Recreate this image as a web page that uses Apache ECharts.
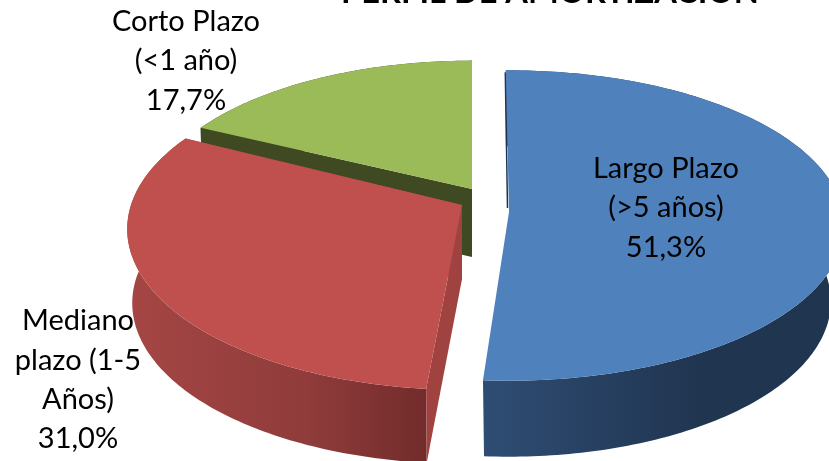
<!DOCTYPE html>
<html><head><meta charset="utf-8">
<style>html,body{margin:0;padding:0;background:#fff}#c{width:829px;height:461px}</style>
<script src="https://cdn.jsdelivr.net/npm/echarts@6/dist/echarts.min.js"></script>
</head><body><div id="c"></div>
<script>
const titleText = 'PERFIL DE AMORTIZACIÓN';
const categories = ['Largo Plazo\n(>5 años)', 'Mediano\nplazo (1-5\nAños)', 'Corto Plazo\n(<1 año)'];
const percentValues = [51.3, 31.0, 17.7];
const percentLabels = ['51,3%', '31,0%', '17,7%'];

const FONT = 'Lato, Carlito, "Open Sans", sans-serif';
// Per-slice look of the tilted, exploded disc
const looks = [
  {ax:509, ay:212, rx:334, ry:154, p:.087, drop:76, lower:.96, top:'#4f81bd', shift:-.6, layer:2, faces:false,
   wall:['#2f4d74','#203550','#203550'], face:'#1d3350', lx:666, ly:208},
  {ax:462, ay:205, rx:331, ry:157, p:.15, drop:74, lower:.985, top:'#c0504d', shift:.6, layer:1, faces:true,
   wall:['#a54644','#8f3c3b','#722c2b'], face:'#a04240', lx:78, ly:380},
  {ax:472, ay:189, rx:322, ry:147, p:.145, drop:68, lower:.995, top:'#9bbb59', shift:0, layer:0, faces:true,
   wall:['#3f4a23','#3f4a23','#3f4a23'], face:'#3f4a23', lx:186, ly:61}
];
const total = percentValues.reduce((a, b) => a + b, 0);

function pt(L, deg, lower) {
  const t = deg * Math.PI / 180, u = Math.sin(t), v = Math.cos(t), s = 1 / (1 + L.p * v);
  return lower
    ? [L.ax + L.rx * L.lower * u * s, L.ay + L.drop - L.ry * v * s]
    : [L.ax + L.rx * u * s, L.ay - L.ry * v * s];
}
function arc(L, a0, a1, lower) {
  const out = [], n = Math.ceil(Math.abs(a1 - a0));
  for (let i = 0; i <= n; i++) out.push(pt(L, a0 + (a1 - a0) * i / n, lower));
  return out;
}

function renderItem(params, api) {
  const i = params.dataIndex, L = looks[i], z = L.layer * 10;
  let before = 0;
  for (let k = 0; k < i; k++) before += percentValues[k];
  const a0 = before / total * 360 + L.shift, a1 = (before + api.value(0)) / total * 360 + L.shift;
  const apex = [L.ax, L.ay], apexLow = [L.ax, L.ay + L.drop];
  const rim = arc(L, a0, a1, false), low = arc(L, a0, a1, true);
  const children = [];
  const grad = {type:'linear', x:0, y:0, x2:1, y2:0, colorStops:[
    {offset:0, color:L.wall[0]}, {offset:.6, color:L.wall[1]}, {offset:1, color:L.wall[2]}]};
  // outer wall
  children.push({type:'polygon', z2:z, shape:{points:rim.concat(low.slice().reverse())}, style:{fill:grad}});
  // inner cut faces
  if (L.faces) {
    children.push({type:'polygon', z2:z+1, shape:{points:[apex, pt(L,a1,false), pt(L,a1,true), apexLow]}, style:{fill:L.face}});
    children.push({type:'polygon', z2:z+1, shape:{points:[apex, pt(L,a0,false), pt(L,a0,true), apexLow]}, style:{fill:L.face}});
  } else {
    // the blue slice keeps only a dark sliver on its cut edge
    const s = pt(L, a0, false);
    children.push({type:'line', z2:z+2, shape:{x1:L.ax-1.5, y1:L.ay-4, x2:s[0]-.5, y2:s[1]+2}, style:{stroke:L.face, lineWidth:1.5}});
  }
  // top
  children.push({type:'polygon', z2:z+3, shape:{points:[apex].concat(rim)}, style:{fill:L.top}});
  // label
  children.push({type:'text', z2:100, style:{text:categories[i]+'\n'+percentLabels[i], x:L.lx, y:L.ly, align:'center', verticalAlign:'middle',
    font:'29px '+FONT, lineHeight:39.3, fill:'#000'}});
  return {type:'group', children};
}

const chart = echarts.init(document.getElementById('c'), null, {renderer:'canvas'});
chart.setOption({
  animation:false,
  backgroundColor:'#fff',
  title:{text:titleText, left:545, top:-29, textAlign:'center', textStyle:{fontFamily:FONT, fontWeight:'bold', fontSize:32.6, color:'#000'}},
  series:[{type:'custom', coordinateSystem:'none', renderItem, data:percentValues.map((v,i)=>({name:categories[i], value:[v]}))}]
});
</script></body></html>
